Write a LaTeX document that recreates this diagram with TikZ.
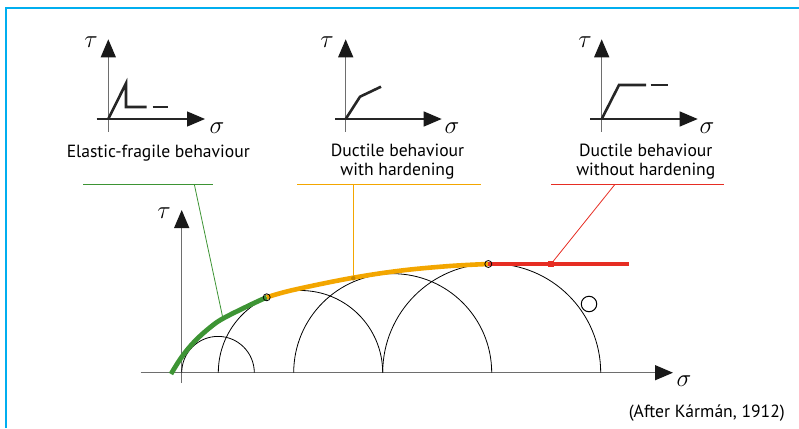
\documentclass[tikz,border=0pt]{standalone}
\usepackage{fontspec}
\setmainfont{PT Sans}
\usetikzlibrary{arrows.meta,calc}
\definecolor{frameblue}{RGB}{0,174,239}
\definecolor{envgreen}{RGB}{61,148,52}
\definecolor{envorange}{RGB}{243,166,0}
\definecolor{envred}{RGB}{230,45,35}
\definecolor{axgray}{RGB}{110,110,110}
\tikzset{
  axisline/.style={draw=axgray, line width=1.3pt},
  axisarrow/.style={-{Triangle[width=15pt,length=18pt,black!90]}, draw=axgray, line width=1.3pt},
  lawline/.style={draw=black!85, line width=2.6pt},
  mohr/.style={draw=black, line width=0.8pt},
  caption/.style={font=\fontsize{17.6}{19}\selectfont, align=center, inner sep=0pt},
  greek/.style={font=\fontsize{28}{28}\selectfont, inner sep=0pt},
  leader/.style={line width=0.8pt},
  joint/.style={circle, draw=black, line width=0.8pt, minimum size=7pt, inner sep=0pt}
}
\begin{document}
\begin{tikzpicture}[x=1pt,y=-1pt]
\useasboundingbox (0,0) rectangle (799,428);
% frame
\draw[frameblue, line width=1.5pt] (6,428) -- (6,8) -- (800,8);

% ---- mini diagram 1 ----
\coordinate (o1) at (108.3,119);
\draw[axisline] (108.3,131.7) -- (108.3,58);
\draw[axisarrow] (108.3,60) -- (108.3,39.3);
\draw[axisarrow,draw=black!85] (96.7,119) -- (205,119);
\node[greek] (t1) at (91,42) {$\tau$};
\node[greek] (s1) at (217,128) {$\sigma$};
\draw[lawline] (o1) -- (126,83.3) -- (126,107) -- (146.7,107);
\draw[lawline] (152.7,107) -- (167.7,107);
\node[caption] (c1) at (158.3,153) {Elastic-fragile behaviour};

% ---- mini diagram 2 ----
\coordinate (o2) at (345.7,119);
\draw[axisline] (345.7,131.7) -- (345.7,58);
\draw[axisarrow] (345.7,60) -- (345.7,39.3);
\draw[axisarrow,draw=black!85] (335,119) -- (441.7,119);
\node[greek] (t2) at (327,42) {$\tau$};
\node[greek] (s2) at (452,128) {$\sigma$};
\draw[lawline] (o2) -- (360,96.7) -- (381,86.7);
\node[caption] (c2) at (397.5,161.5) {Ductile behaviour\\with hardening};

% ---- mini diagram 3 ----
\coordinate (o3) at (601.7,119);
\draw[axisline] (601.7,131.7) -- (601.7,58);
\draw[axisarrow] (601.7,60) -- (601.7,39.3);
\draw[axisarrow,draw=black!85] (590,119) -- (697.7,119);
\node[greek] (t3) at (585,42) {$\tau$};
\node[greek] (s3) at (707,128) {$\sigma$};
\draw[lawline] (o3) -- (619,85) -- (646,85);
\draw[lawline] (650.7,85) -- (667.7,85);
\node[caption] (c3) at (645.8,161.5) {Ductile behaviour\\without hardening};

% ---- main diagram ----
\draw[axisline] (181.7,383) -- (181.7,226);
\draw[axisarrow] (181.7,228) -- (181.7,210);
\draw[axisarrow] (140.7,372.7) -- (673,372.7);
\node[greek] (tm) at (164,213) {$\tau$};
\node[greek] (sm) at (684,381) {$\sigma$};

% Mohr circles
\draw[mohr] (181.7,372.7) arc[start angle=180,end angle=360,radius=36.3];
\draw[mohr] (218.3,372.7) arc[start angle=180,end angle=360,radius=82.2];
\draw[mohr] (293.7,372.7) arc[start angle=180,end angle=360,radius=99];
\draw[mohr] (382.7,372.7) arc[start angle=180,end angle=360,radius=109];

% envelope
\coordinate (j1) at (266.7,297.3);
\coordinate (j2) at (488.3,264);
\draw[envgreen, line width=4.8pt] plot[smooth, tension=0.6] coordinates {(171,374) (181.7,357) (195,341) (210,327.5) (223,318.5) (250,305) (266.7,297.3)};
\draw[envorange, line width=4.6pt] plot[smooth, tension=0.6] coordinates {(266.7,297.3) (293,290) (350,278.3) (400,270.7) (450,266) (488.3,264)};
\draw[envred, line width=3.6pt] (j2) -- (629.3,264);
\node[joint] (jn1) at (j1) {};
\node[joint] (jn2) at (j2) {};

% O marker
\node[circle, draw=black, line width=1pt, minimum size=15.5pt, inner sep=0pt] (om) at (589,304) {};

% leaders
\coordinate (g1) at (83.3,184.3);
\coordinate (g2) at (212.7,184.3);
\coordinate (g3) at (194.3,184.3);
\coordinate (g4) at (222.7,317.3);
\draw[envgreen, leader] (g1) -- (g2);
\draw[envgreen, leader] (g3) -- (g4);

\coordinate (y1) at (297,184.3);
\coordinate (y2) at (481,184.3);
\coordinate (y3) at (353.3,184.3);
\coordinate (y4) at (353.3,278.3);
\draw[envorange, leader] (y1) -- (y2);
\draw[envorange, leader] (y3) -- (y4);
\fill[envorange!80!black] (y4) circle[radius=2.2];

\coordinate (r1) at (551,184.3);
\coordinate (r2) at (724,184.3);
\coordinate (r3) at (615,184.3);
\coordinate (r4) at (551,264);
\draw[envred, leader] (r1) -- (r2);
\draw[envred, leader] (r3) -- (r4);
\fill[envred] ($(r4)+(-3,-3)$) rectangle ++(6,6);

\node[font=\fontsize{17.6}{19}\selectfont, anchor=east, inner sep=0pt] (src) at (785,413) {(After Kármán, 1912)};
\end{tikzpicture}
\end{document}
